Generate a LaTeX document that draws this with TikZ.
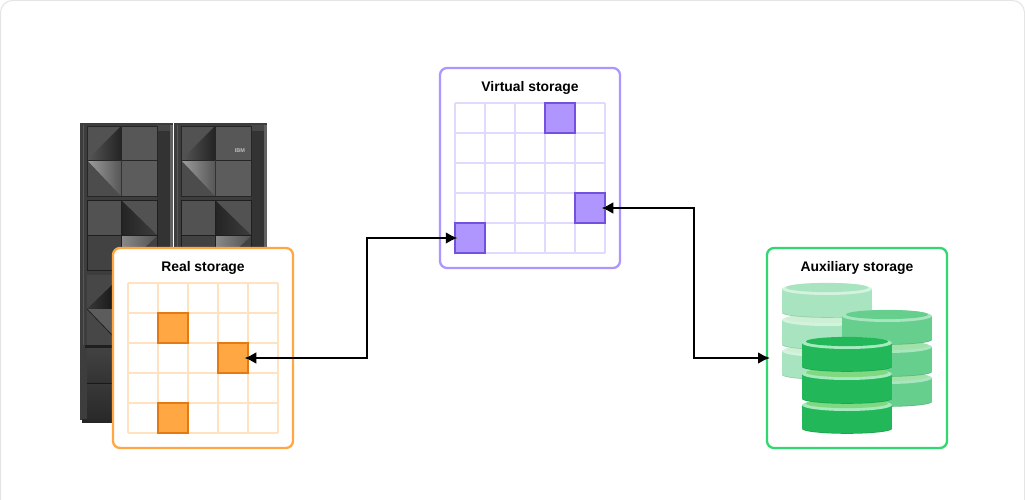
\documentclass[tikz,border=0pt]{standalone}
\usepackage{fontspec}
\setmainfont{Liberation Sans}
\usetikzlibrary{arrows.meta}

\definecolor{realline}{HTML}{FFA843}
\definecolor{realgrid}{HTML}{FFE3C0}
\definecolor{realdark}{HTML}{E67A12}
\definecolor{virtline}{HTML}{AF96FF}
\definecolor{virtgrid}{HTML}{E2D9FF}
\definecolor{virtdark}{HTML}{7350E0}
\definecolor{auxline}{HTML}{31D870}
\definecolor{backbody}{HTML}{A9E4C0}
\definecolor{backrim}{HTML}{D3F3DF}
\definecolor{backneck}{HTML}{CDEFD4}
\definecolor{midbody}{HTML}{66CF8D}
\definecolor{midrim}{HTML}{A8E6BF}
\definecolor{midneck}{HTML}{A2E2A8}
\definecolor{frontbody}{HTML}{22B859}
\definecolor{frontrim}{HTML}{A6EBBF}
\definecolor{frontneck}{HTML}{80D880}

\tikzset{
  store/.style={draw, rounded corners=7pt, fill=white, line width=2.3pt, minimum width=180pt, minimum height=200pt},
  title/.style={font=\fontsize{13.9}{16}\selectfont\bfseries, text=black, inner sep=0pt},
  realcell/.style={draw=realdark, fill=realline, line width=2.5pt, minimum size=30pt, inner sep=0pt},
  virtcell/.style={draw=virtdark, fill=virtline, line width=2.5pt, minimum size=30pt, inner sep=0pt},
  link/.style={draw=black, line width=2.8pt, {Latex[length=12pt,width=12pt]}-{Latex[length=12pt,width=12pt]}},
  tiphalo/.style={draw=white, line width=3.5pt, -{Latex[length=15pt,width=16pt]}},
}

\newcommand{\cellgrid}[3]{
  \foreach \i in {0,...,5} {
    \draw[#3, line width=2.5pt] (#1+30*\i,#2) -- (#1+30*\i,#2+150);
    \draw[#3, line width=2.5pt] (#1,#2+30*\i) -- (#1+150,#2+30*\i);
  }
}

\newcommand{\drum}[7]{
  \fill[#5!90!black] (#1,#3+0.8) ellipse [x radius=#4/2, y radius=5];
  \fill[#5] (#1-#4/2,#2) rectangle (#1+#4/2,#3);
  \fill[#5] (#1,#3) ellipse [x radius=#4/2, y radius=5];
  \fill[#6] (#1,#2) ellipse [x radius=#4/2, y radius=6];
  \fill[#7] (#1,#2-1.5) ellipse [x radius=#4/2-4, y radius=4.6];
}

\newcommand{\dbstack}[5]{
  \drum{#1}{#2+62}{#2+85}{90}{#3}{#4}{#5}
  \drum{#1}{#2+31}{#2+55}{90}{#3}{#4}{#5}
  \drum{#1}{#2}{#2+23}{90}{#3}{#4}{#3}
}

\begin{document}
\begin{tikzpicture}[x=1pt, y=-1pt]
  \clip (0,0) rectangle (1025,500);
  \fill[white] (0,0) rectangle (1025,500);
  \draw[black!10, line width=1pt, rounded corners=12pt] (0.5,0.5) rectangle (1024.5,530);

  \foreach \rx in {0,94} {
    \begin{scope}[xshift=\rx pt]
      \fill[black!76] (80,123) rectangle (172.5,420);
      \fill[black!85] (82,419) rectangle (172,422.5);
      \fill[black!66] (83,125) rectangle (84,345);
      \fill[black!80] (157,125) rectangle (170,420);
      \fill[black!72] (157,125) rectangle (170,131);
      \fill[black!62] (170,125) rectangle (172.5,420);

      \fill[black!68] (87,126) rectangle (121,160);
      \fill[black!66] (121,126) rectangle (157,160);
      \fill[black!70] (87,160) rectangle (121,196);
      \fill[black!64] (121,160) rectangle (157,196);
      \shade[left color=black!66, right color=black!86] (87,160) -- (121,126) -- (121,160) -- cycle;
      \shade[left color=black!38, right color=black!66] (87,160) -- (121,160) -- (121,196) -- cycle;
      \draw[black!85, line width=0.7pt] (87,126) rectangle (157,196);
      \draw[black!85, line width=0.7pt] (121,126) -- (121,160) (87,160) -- (157,160);
      \draw[black!80, line width=0.5pt] (121,160) -- (121,196);

      \fill[black!68] (87,200) rectangle (121,235);
      \fill[black!68] (121,200) rectangle (157,235);
      \fill[black!74] (87,235) rectangle (157,270);
      \shade[left color=black!86, right color=black!76] (121,200) -- (157,235) -- (121,235) -- cycle;
      \shade[left color=black!46, right color=black!68] (121,236) -- (157,236) -- (121,270) -- cycle;
      \draw[black!88, line width=0.7pt] (87,200) rectangle (157,270);
      \draw[black!88, line width=0.7pt] (121,200) -- (121,270) (87,235) -- (157,235);

      \fill[black!72] (87,275) rectangle (121,345);
      \shade[left color=black!78, right color=black!90] (87,309) -- (113,284) -- (113,309) -- cycle;
      \fill[black!64] (87,309) -- (113,309) -- (113,335) -- cycle;
      \draw[black!90, line width=0.6pt] (87,309) -- (113,336);

      \fill[black!88] (85,345) rectangle (157,348);
      \shade[top color=black!74, bottom color=black!80] (87,348) rectangle (157,383);
      \shade[top color=black!78, bottom color=black!84] (87,384) rectangle (157,420);
      \draw[black!90, line width=0.6pt] (87,383.5) -- (157,383.5);
    \end{scope}
  }
  \node[font=\fontsize{5.5}{6}\selectfont\bfseries, text=black!25, inner sep=0pt] (logo) at (240,151) {IBM};

  \node[store, draw=realline] (realbox) at (203,348) {};
  \node[store, draw=virtline] (virtbox) at (530,168) {};
  \node[store, draw=auxline] (auxbox) at (857,348) {};

  \node[title] (realtitle) at (203,267.5) {Real storage};
  \node[title] (virttitle) at (530,87.5) {Virtual storage};
  \node[title] (auxtitle) at (857,267.5) {Auxiliary storage};

  \cellgrid{128}{283}{realgrid}
  \cellgrid{455}{103}{virtgrid}

  \node[realcell] (rc1) at (173,328) {};
  \node[realcell] (rc2) at (233,358) {};
  \node[realcell] (rc3) at (173,418) {};
  \node[virtcell] (vc1) at (470,238) {};
  \node[virtcell] (vc2) at (590,208) {};
  \node[virtcell] (vc3) at (560,118) {};

  \dbstack{827}{289}{backbody}{backrim}{backneck}
  \dbstack{887}{316}{midbody}{midrim}{midneck}
  \dbstack{847}{343}{frontbody}{frontrim}{frontneck}

  \coordinate (bendreal) at (367,298);
  \coordinate (bendaux) at (694,283);
  \coordinate (auxin) at (770,358);

  \draw[tiphalo] ([xshift=8pt]rc2.east) -- ([xshift=-5pt]rc2.east);
  \draw[tiphalo] ([xshift=-8pt]vc1.west) -- ([xshift=4pt]vc1.west);
  \draw[tiphalo] ([xshift=8pt]vc2.east) -- ([xshift=-5pt]vc2.east);

  \draw[link] ([xshift=-5pt]rc2.east) -| (bendreal) |- ([xshift=4pt]vc1.west);
  \draw[link] ([xshift=-5pt]vc2.east) -| (bendaux) |- (auxin);
\end{tikzpicture}
\end{document}
